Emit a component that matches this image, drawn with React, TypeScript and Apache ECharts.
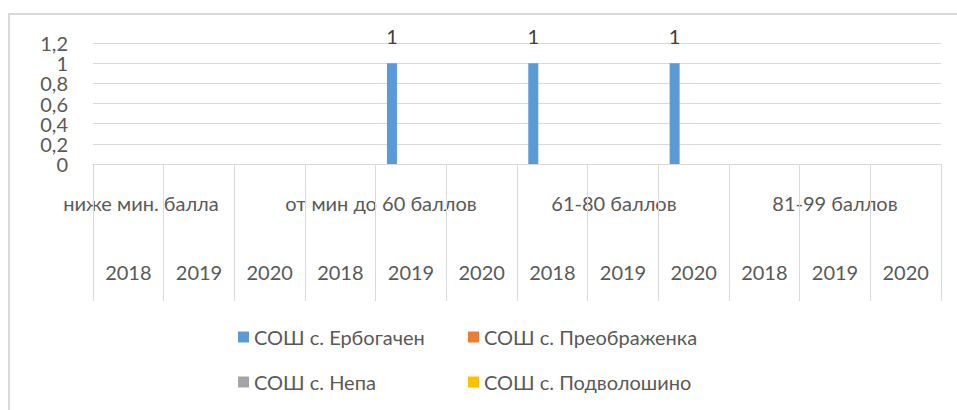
import React, { useEffect, useRef } from "react";
import * as echarts from "echarts";

const years = ["2018", "2019", "2020", "2018", "2019", "2020", "2018", "2019", "2020", "2018", "2019", "2020"];
const groups = ["ниже мин. балла", "от мин до 60 баллов", "61-80 баллов", "81-99 баллов"];
const seriesNames = ["СОШ с. Ербогачен", "СОШ с. Преображенка", "СОШ с. Непа", "СОШ с. Подволошино"];
const erbogachen = [null, null, null, null, 1, null, 1, null, 1, null, null, null];
const preobrazhenka = [null, null, null, null, null, null, null, null, null, null, null, null];
const nepa = [null, null, null, null, null, null, null, null, null, null, null, null];
const podvoloshino = [null, null, null, null, null, null, null, null, null, null, null, null];
const yTicks = [0, 0.2, 0.4, 0.6, 0.8, 1, 1.2];

const colors = ["#5B9BD5", "#ED7D31", "#A5A5A5", "#FFC000"];
const FONT = "Lato";
const W = 957;
const H = 410;
const GRID_LEFT = 93;
const GRID_RIGHT = 16;
const GRID_TOP = 43;
const GRID_BOTTOM = 246;
const GROUP_LABEL_Y = 203;
const GROUP_SHIFT = [-58, -30, -9, 0];

export default function App() {
  const ref = useRef<HTMLDivElement>(null);
  useEffect(() => {
    if (!ref.current) return;
    const chart = echarts.init(ref.current, undefined, { renderer: "svg" });
    const plotW = W - GRID_LEFT - GRID_RIGHT;
    const catW = plotW / years.length;
    const groupTexts = groups.map((g, i) => ({
      type: "text",
      style: {
        text: g,
        x: GRID_LEFT + (i * 3 + 1.5) * catW + GROUP_SHIFT[i],
        y: GROUP_LABEL_Y,
        align: "center",
        verticalAlign: "middle",
        fontSize: 20,
        fontFamily: FONT,
        fill: "#595959",
      },
    }));
    const allData = [erbogachen, preobrazhenka, nepa, podvoloshino];
    const legendPos = [
      [238, 327],
      [468, 327],
      [238, 372],
      [468, 372],
    ];
    chart.setOption({
      animation: false,
      color: colors,
      grid: { left: GRID_LEFT, right: GRID_RIGHT, top: GRID_TOP, bottom: GRID_BOTTOM, containLabel: false },
      xAxis: {
        type: "category",
        data: years,
        axisLine: { show: true, lineStyle: { color: "#d9d9d9", width: 1 } },
        axisTick: { show: true, interval: 0, length: 137, lineStyle: { color: "#d9d9d9", width: 1 } },
        axisLabel: { interval: 0, margin: 98, fontSize: 20, fontFamily: FONT, color: "#595959" },
      },
      yAxis: {
        type: "value",
        min: yTicks[0],
        max: yTicks[yTicks.length - 1],
        interval: 0.2,
        axisLine: { show: false },
        axisTick: { show: false },
        splitLine: { lineStyle: { color: "#d9d9d9", width: 1 } },
        axisLabel: {
          margin: 25,
          fontSize: 20,
          lineHeight: 18,
          fontFamily: FONT,
          color: "#595959",
          formatter: (v: number) => String(+v.toFixed(1)).replace(".", ","),
        },
      },
      legend: seriesNames.map((n, i) => ({
        data: [n],
        left: legendPos[i][0],
        top: legendPos[i][1],
        padding: 0,
        icon: "rect",
        itemWidth: 11,
        itemHeight: 11,
        selectedMode: false,
        textStyle: { fontSize: 20, fontFamily: FONT, color: "#595959" },
      })),
      series: seriesNames.map((n, i) => ({
        name: n,
        type: "bar",
        data: allData[i],
        barWidth: 10,
        barGap: "27%",
        label: {
          show: true,
          position: "top",
          distance: 17,
          fontSize: 20,
          fontFamily: FONT,
          color: "#404040",
        },
      })),
      graphic: [
        {
          type: "rect",
          shape: { x: 9, y: 14, width: 1200, height: 1200 },
          style: { fill: "none", stroke: "#d9d9d9", lineWidth: 2 },
          silent: true,
        },
        ...groupTexts,
      ],
    });
    return () => chart.dispose();
  }, []);
  return <div ref={ref} style={{ position: "fixed", left: 0, top: 0, width: W, height: H, background: "#fff" }} />;
}
